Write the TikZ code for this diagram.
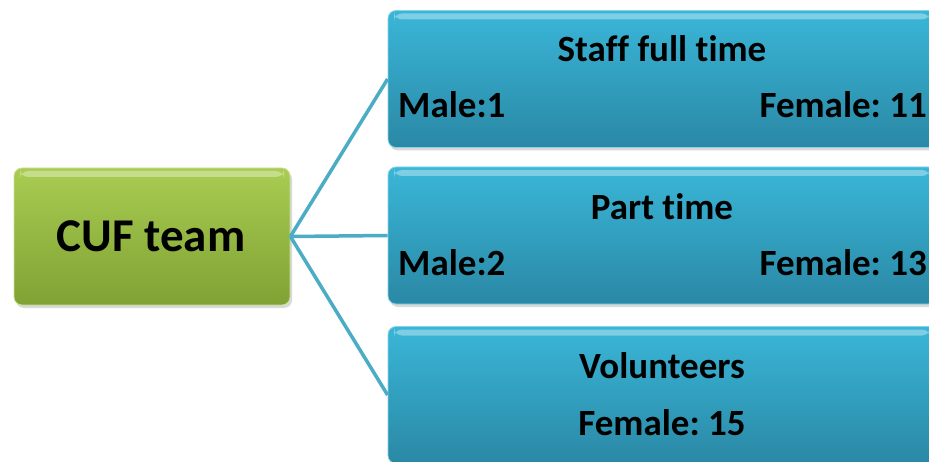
\documentclass[tikz,border=0pt]{standalone}
\usepackage{fontspec}
\setmainfont{Carlito}[Ligatures=NoCommon]
\frenchspacing
\usetikzlibrary{shadows}
\definecolor{greentop}{HTML}{A9CC52}
\definecolor{greenbot}{HTML}{7FA234}
\definecolor{bluetop}{HTML}{3AB6D8}
\definecolor{bluebot}{HTML}{2A88A5}
\definecolor{linkblue}{HTML}{4BACC6}
\tikzset{
  gloss/.style={path picture={
      \fill[white,opacity=0.35] ([xshift=6pt,yshift=-3pt]path picture bounding box.north west)
        rectangle ([xshift=-6pt,yshift=-9pt]path picture bounding box.north east);}},
  teambox/.style={draw=greentop!60!white, line width=0.8pt, rounded corners=8pt,
    top color=greentop, bottom color=greenbot, minimum width=276pt, minimum height=137pt,
    drop shadow={shadow xshift=2pt, shadow yshift=-3pt, opacity=0.3}, gloss},
  groupbox/.style={draw=bluetop!60!white, line width=0.8pt, rounded corners=8pt,
    top color=bluetop, bottom color=bluebot, minimum width=548pt, minimum height=137pt,
    drop shadow={shadow xshift=2pt, shadow yshift=-3pt, opacity=0.3}, gloss},
  link/.style={draw=linkblue, line width=3.5pt},
  title/.style={font=\bfseries\fontsize{37}{42}\selectfont, inner sep=0pt},
}
\begin{document}
\begin{tikzpicture}[x=1pt,y=1pt]
  \useasboundingbox (0,0) rectangle (929,461);
  \clip (0,0) rectangle (929,461);
  % boxes
  \node[teambox] (team) at (152,224.5) {};
  \node[groupbox] (staff) at (662,382) {};
  \node[groupbox] (part) at (662,225.5) {};
  \node[groupbox] (vol) at (662,66) {};
  % connectors
  \draw[link] (team.east) -- (staff.west);
  \draw[link] (team.east) -- (part.west);
  \draw[link] (team.east) -- (vol.west);
  % texts
  \node[font=\bfseries\fontsize{47}{52}\selectfont, inner sep=0pt, anchor=base] (teamtxt) at (151,209) {CUF team};
  \node[title, anchor=base] (stafftxt) at (662,399) {Staff full time};
  \node[title, anchor=base west] (staffm) at (398,343) {Male:1};
  \node[title, anchor=base east] (stafff) at (927,343) {Female: 11};
  \node[title, anchor=base] (parttxt) at (662,241) {Part time};
  \node[title, anchor=base west] (partm) at (398,185) {Male:2};
  \node[title, anchor=base east] (partf) at (927,185) {Female: 13};
  \node[title, anchor=base] (voltxt) at (662,83) {Volunteers};
  \node[title, anchor=base] (volf) at (662,26) {Female: 15};
\end{tikzpicture}
\end{document}
